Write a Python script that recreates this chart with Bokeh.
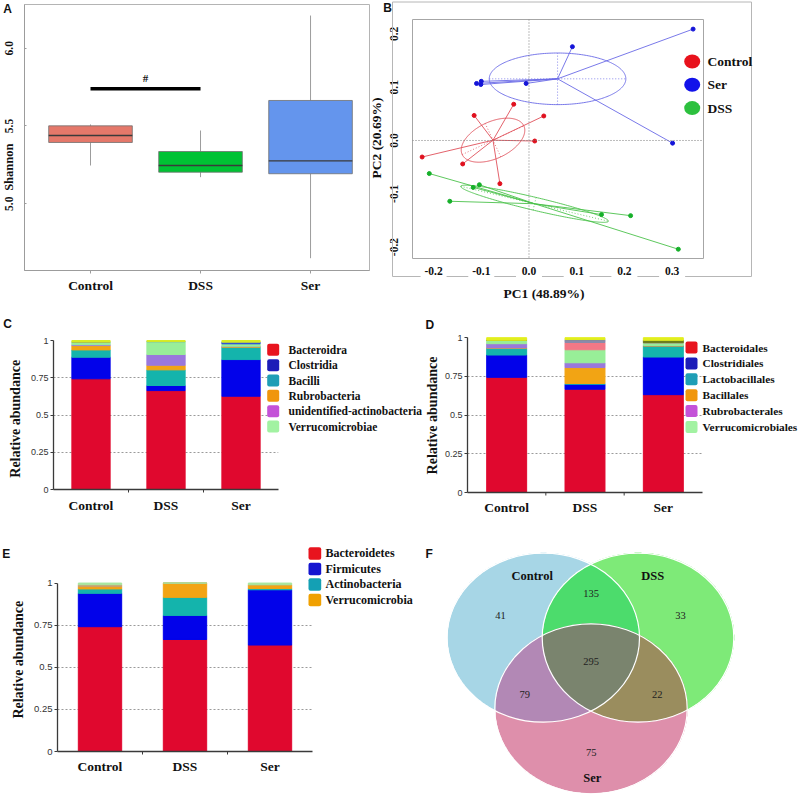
import numpy as np
from bokeh.plotting import figure
from bokeh.models import (Range1d, FactorRange, FixedTicker, Label, BoxAnnotation, Span,
                          NumeralTickFormatter, ColumnDataSource, GridBox)
from bokeh.embed import file_html
from bokeh.resources import INLINE
from bokeh.core.properties import value

SERIF = "Liberation Serif"
SANS = "Liberation Sans"
INK = "#111111"
W = H = 800

# ============================ data ============================
groups = ["Control", "DSS", "Ser"]

# (A) Shannon diversity: box-plot statistics per group
shannon_lo = [5.246, 5.171, 4.650]
shannon_q1 = [5.394, 5.203, 5.193]
shannon_median = [5.439, 5.246, 5.276]
shannon_q3 = [5.501, 5.336, 5.664]
shannon_hi = [5.510, 5.471, 6.210]
shannon_ticks = [5.0, 5.5, 6.0]
shannon_title = "Shannon"
sig_pair = ["Control", "DSS"]
sig_level = 5.739
sig_symbol = "#"

# (B) PCoA scores
pcoa_groups = ["Control", "Ser", "DSS"]
pc1_control = [-0.224, -0.139, -0.115, -0.032, 0.031, 0.012, -0.061]
pc2_control = [-0.031, -0.044, 0.047, 0.068, 0.046, -0.001, -0.081]
pc1_ser = [0.344, 0.091, -0.110, -0.100, -0.101, -0.006, 0.301]
pc2_ser = [0.209, 0.176, 0.107, 0.111, 0.105, 0.107, -0.005]
pc1_dss = [-0.209, -0.166, -0.117, -0.104, 0.152, 0.213, 0.313]
pc2_dss = [-0.062, -0.114, -0.088, -0.083, -0.139, -0.141, -0.204]
pc1_ticks = [-0.2, -0.1, 0.0, 0.1, 0.2, 0.3]
pc2_ticks = [-0.2, -0.1, 0.0, 0.1, 0.2]
pc1_title = "PC1 (48.89%)"
pc2_title = "PC2 (20.69%)"

# (C) class level relative abundance (stack order bottom -> top)
class_names = ["Bacteroidra", "Clostridia", "Bacilli", "Rubrobacteria",
               "unidentified-actinobacteria", "Verrucomicrobiae", "Other class", "Others"]
class_control = [0.743, 0.145, 0.049, 0.029, 0.006, 0.017, 0.000, 0.011]
class_dss = [0.664, 0.034, 0.105, 0.031, 0.072, 0.087, 0.000, 0.007]
class_ser = [0.626, 0.246, 0.083, 0.004, 0.003, 0.016, 0.011, 0.011]
class_legend_n = 6

# (D) order level
order_names = ["Bacteroidales", "Clostridiales", "Lactobacillales", "Bacillales",
               "Rubrobacterales", "Verrucomicrobiales", "Other order 1", "Other order 2",
               "Other order 3", "Others"]
order_control = [0.744, 0.144, 0.044, 0.002, 0.027, 0.022, 0.000, 0.000, 0.000, 0.017]
order_dss = [0.667, 0.032, 0.005, 0.103, 0.031, 0.084, 0.047, 0.019, 0.000, 0.012]
order_ser = [0.632, 0.243, 0.071, 0.002, 0.002, 0.018, 0.000, 0.000, 0.015, 0.017]
order_legend_n = 6

# (E) phylum level
phylum_names = ["Bacteroidetes", "Firmicutes", "Actinobacteria", "Verrucomicrobia",
                "Other phylum", "Others"]
phylum_control = [0.741, 0.198, 0.026, 0.014, 0.011, 0.010]
phylum_dss = [0.665, 0.143, 0.107, 0.085, 0.000, 0.000]
phylum_ser = [0.632, 0.328, 0.008, 0.022, 0.000, 0.010]
phylum_legend_n = 4

abundance_ticks = [0, 0.25, 0.5, 0.75, 1]
abundance_grid = [0.25, 0.5, 0.75]
abundance_title = "Relative abundance"

# (F) Venn diagram: OTU counts per region (bit 1 = Control, 2 = DSS, 4 = Ser)
venn_sets = ["Control", "DSS", "Ser"]
venn_regions = [1, 2, 4, 3, 5, 6, 7]
venn_counts = [41, 33, 75, 135, 79, 22, 295]

# ============================ styles ============================
BOX_COLORS = ["#e5786a", "#00c234", "#6495ed"]
PC_POINT = {"Control": "#e0101e", "Ser": "#1414d8", "DSS": "#16b02a"}
PC_LINE = {"Control": "#e0505a", "Ser": "#6a6ae6", "DSS": "#4cc24c"}
PC_LEG = {"Control": "#e8121c", "Ser": "#1212ea", "DSS": "#2cc03e"}
PC_ELL = {"Control": (34.0, 18.4, 25.0), "Ser": (68.3, 25.8, 0.0), "DSS": (75.9, 6.5, -13.3)}

CLASS_COLORS = ["#e0082e", "#0202ea", "#14b4ac", "#f2a414", "#9a78dc", "#98ee98", "#2848d8", "#d6ec24"]
CLASS_LEG_COLORS = ["#e8141e", "#1c1cb8", "#1e9eb6", "#f0960c", "#c452d8", "#a2f2a2"]
ORDER_COLORS = ["#e0082e", "#0202ea", "#14b4ac", "#f2a414", "#9a78dc", "#98ee98",
                "#f27886", "#8a8aaa", "#6b7d1e", "#e2ee1e"]
ORDER_LEG_COLORS = ["#e8141e", "#1c1cb8", "#1e9eb6", "#f0960c", "#c452d8", "#a2f2a2"]
PHYLUM_COLORS = ["#e0082e", "#0202ea", "#14b4ac", "#f2a414", "#c8a070", "#a8e6a0"]
PHYLUM_LEG_COLORS = ["#e8141e", "#1414d0", "#14a0b4", "#f0a000"]
VENN_FILL = {1: "#a7d6e6", 2: "#7eea78", 4: "#de8fab", 3: "#4cdc6c",
             5: "#b288b5", 6: "#9a8d5e", 7: "#7a846e"}


# ============================ helpers ============================
def panel_fig(left, right, top, bottom, xr, yr, axes=True):
    """Full-page (800x800) transparent figure whose frame sits at the given page box."""
    kw = {} if axes else dict(x_axis_type=None, y_axis_type=None)
    p = figure(width=W, height=H, x_range=xr, y_range=yr, output_backend="svg",
               toolbar_location=None, title=None,
               min_border_left=left, min_border_right=W - right,
               min_border_top=top, min_border_bottom=H - bottom, **kw)
    p.frame_align = False
    p.outline_line_color = None
    p.grid.visible = False
    p.background_fill_alpha = 0
    p.border_fill_alpha = 0
    return p


def style_axis(ax, size, font=SERIF, bold=True, color=INK):
    ax.major_label_text_font = font
    ax.major_label_text_font_size = f"{size}px"
    ax.major_label_text_font_style = "bold" if bold else "normal"
    ax.major_label_text_color = color
    ax.minor_tick_line_color = None


# overlay figure for free texts / legends (frame = whole page, 1 unit = 1 px)
ov = figure(width=W, height=H, x_range=Range1d(0, W), y_range=Range1d(0, H),
            x_axis_type=None, y_axis_type=None, output_backend="svg",
            toolbar_location=None, title=None, min_border=0)
ov.frame_align = False
ov.outline_line_color = None
ov.grid.visible = False
ov.background_fill_alpha = 0
ov.border_fill_alpha = 0


def txt(px, py, text, size, font=SERIF, bold=True, align="center", baseline="middle",
        angle=0.0, color=INK):
    ov.add_layout(Label(x=px, y=H - py, text=text, text_font=font,
                        text_font_size=f"{size}px",
                        text_font_style="bold" if bold else "normal", text_color=color,
                        text_align=align, text_baseline=baseline, angle=angle))


def legend_block(names, colors, left, top, pitch, sq_w, sq_h, text_x, size):
    for i, (nm, col) in enumerate(zip(names, colors)):
        t = top + i * pitch
        ov.add_layout(BoxAnnotation(left=left, right=left + sq_w, top=H - t, bottom=H - t - sq_h,
                                    fill_color=col, fill_alpha=1.0, line_color=None,
                                    border_radius=2))
        txt(text_x, t + sq_h / 2, nm, size, align="left")


# ============================ (A) ============================
x_pos = list(range(len(groups)))
pA = panel_fig(24, 369, 4, 270, Range1d(-0.6, 2.536), Range1d(4.571, 6.281))
pA.outline_line_color = "#b4b4b4"
BOX_W = 0.76
srcA = ColumnDataSource(dict(x=x_pos, lo=shannon_lo, q1=shannon_q1, med=shannon_median,
                             q3=shannon_q3, hi=shannon_hi,
                             x0=[x - BOX_W / 2 for x in x_pos], x1=[x + BOX_W / 2 for x in x_pos],
                             color=BOX_COLORS))
pA.segment(x0="x", y0="q3", x1="x", y1="hi", source=srcA, line_color="#9c9c9c", line_width=1)
pA.segment(x0="x", y0="q1", x1="x", y1="lo", source=srcA, line_color="#9c9c9c", line_width=1)
pA.vbar(x="x", width=BOX_W, bottom="q1", top="q3", source=srcA, fill_color="color",
        line_color="#707070", line_width=0.8)
pA.segment(x0="x0", y0="med", x1="x1", y1="med", source=srcA, line_color="#3a3a3a", line_width=1.3)
i0, i1 = groups.index(sig_pair[0]), groups.index(sig_pair[1])
pA.segment(x0=[i0], y0=[sig_level], x1=[i1], y1=[sig_level], line_color="black", line_width=3.5)
pA.text(x=[(i0 + i1) / 2], y=[sig_level], text=[sig_symbol], text_font=value(SERIF),
        text_font_style="bold", text_font_size="11px", text_align="center",
        text_baseline="middle", y_offset=-11, text_color=INK)

xa = pA.xaxis[0]
xa.ticker = FixedTicker(ticks=x_pos)
xa.major_label_overrides = {i: g for i, g in enumerate(groups)}
xa.axis_line_color = "#9c9c9c"
xa.major_tick_line_color = "#9c9c9c"
xa.major_tick_out = 3
xa.major_tick_in = 0
xa.major_label_standoff = 4
style_axis(xa, 13.5)
ya = pA.yaxis[0]
ya.ticker = FixedTicker(ticks=shannon_ticks)
ya.formatter = NumeralTickFormatter(format="0.0")
ya.major_label_orientation = "vertical"
ya.axis_line_color = "#9c9c9c"
ya.major_tick_line_color = "#9c9c9c"
ya.major_tick_out = 0
ya.major_tick_in = 2
ya.major_label_standoff = 11
style_axis(ya, 11.5)
txt(8.3, 166.7, shannon_title, 12.5, angle=np.pi / 2)
txt(2.7, 8.0, "A", 12, font=SANS, align="left")

# ============================ (B) ============================
BL, BR, BT, BB = 412, 703, 19, 258
bx0, bx1, by0, by1 = -0.2442, 0.3658, -0.2214, 0.2270
pB = panel_fig(BL, BR, BT, BB, Range1d(bx0, bx1), Range1d(by0, by1))
pB.outline_line_color = "#a6a6a6"
SX = (BR - BL) / (bx1 - bx0)
SY = (BB - BT) / (by1 - by0)

pB.add_layout(Span(location=0, dimension="height", line_color="#7a7a7a", line_dash="1 2", line_width=1))
pB.add_layout(Span(location=0, dimension="width", line_color="#7a7a7a", line_dash="1 2", line_width=1))

pcs = {"Control": (pc1_control, pc2_control), "Ser": (pc1_ser, pc2_ser), "DSS": (pc1_dss, pc2_dss)}
t = np.linspace(0, 2 * np.pi, 240)
for g in pcoa_groups:
    xs, ys = pcs[g]
    n = len(xs)
    cx, cy = float(np.mean(xs)), float(np.mean(ys))
    a, b, ang = PC_ELL[g]
    th = np.radians(ang)
    ex = a * np.cos(t)
    ey = b * np.sin(t)
    pB.line(cx + (ex * np.cos(th) - ey * np.sin(th)) / SX,
            cy + (ex * np.sin(th) + ey * np.cos(th)) / SY,
            line_color=PC_LINE[g], line_width=0.9)
    pB.line([cx - a * np.cos(th) / SX, cx + a * np.cos(th) / SX],
            [cy - a * np.sin(th) / SY, cy + a * np.sin(th) / SY],
            line_color=PC_LINE[g], line_width=0.8, line_dash="1 2")
    pB.line([cx + b * np.sin(th) / SX, cx - b * np.sin(th) / SX],
            [cy - b * np.cos(th) / SY, cy + b * np.cos(th) / SY],
            line_color=PC_LINE[g], line_width=0.8, line_dash="1 2")
    pB.segment(x0=[cx] * n, y0=[cy] * n, x1=xs, y1=ys, line_color=PC_LINE[g], line_width=0.9)
    pB.scatter(xs, ys, size=4, color=PC_POINT[g])

xb = pB.xaxis[0]
xb.ticker = FixedTicker(ticks=pc1_ticks)
xb.formatter = NumeralTickFormatter(format="0.0")
xb.axis_line_color = None
xb.major_tick_line_color = None
xb.major_label_standoff = 2
style_axis(xb, 11.5)
yb = pB.yaxis[0]
yb.ticker = FixedTicker(ticks=pc2_ticks)
yb.formatter = NumeralTickFormatter(format="0.0")
yb.axis_line_color = None
yb.major_tick_line_color = None
yb.major_label_orientation = "vertical"
yb.major_label_standoff = 8
style_axis(yb, 11.5)

# outer frame of panel B (bottom edge interrupted by the tick labels)
OUT_L, OUT_R, OUT_T, OUT_B = 392, 751, 1.5, 276
FRAME_COL = "#b6b6b6"
ov.segment(x0=[OUT_L, OUT_L, OUT_R], y0=[H - OUT_T, H - OUT_T, H - OUT_T],
           x1=[OUT_R, OUT_L, OUT_R], y1=[H - OUT_T, H - OUT_B, H - OUT_B],
           line_color=FRAME_COL, line_width=1)
tick_px = [BL + (tv - bx0) * SX for tv in pc1_ticks]
GAP = 13
seg_x0 = [OUT_L] + [tp + GAP for tp in tick_px]
seg_x1 = [tp - GAP for tp in tick_px] + [OUT_R]
ov.segment(x0=seg_x0, y0=[H - OUT_B] * len(seg_x0), x1=seg_x1, y1=[H - OUT_B] * len(seg_x1),
           line_color=FRAME_COL, line_width=1)

for i, g in enumerate(pcoa_groups):
    py = 61.0 + 23.3 * i
    ov.ellipse(x=[691.7], y=[H - py], width=16, height=14, fill_color=PC_LEG[g], line_color=None)
    txt(707, py, g, 13.5, align="left")
txt(376, 137.5, pc2_title, 13.5, angle=np.pi / 2)
txt(543.5, 293, pc1_title, 13.5)
txt(382.7, 7.5, "B", 12, font=SANS, align="left")


# ============================ (C, D, E) ============================
def bar_panel(left, right, top, bottom, names, ctrl, dss, ser, colors, tick_size, xl_standoff):
    p = panel_fig(left, right, top, bottom, FactorRange(*groups, range_padding=0),
                  Range1d(0, 1.027))
    data = {"group": groups}
    for i, nm in enumerate(names):
        data[nm] = [ctrl[i], dss[i], ser[i]]
    p.vbar_stack(names, x="group", width=0.51, color=colors, source=ColumnDataSource(data))
    p.ygrid.visible = True
    p.ygrid.ticker = FixedTicker(ticks=abundance_grid)
    p.ygrid.grid_line_color = "#9a9a9a"
    p.ygrid.grid_line_dash = "2 2"
    p.ygrid.grid_line_width = 1
    ax = p.xaxis[0]
    ax.axis_line_color = "#3a3a3a"
    ax.axis_line_width = 1.3
    ax.major_tick_out = 0
    ax.major_tick_in = 0
    ax.major_label_standoff = xl_standoff
    style_axis(ax, 13.5)
    ay = p.yaxis[0]
    ay.ticker = FixedTicker(ticks=abundance_ticks)
    ay.formatter = NumeralTickFormatter(format="0.[00]")
    ay.bounds = (0, 1)
    ay.axis_line_color = "#3a3a3a"
    ay.axis_line_width = 1.3
    ay.major_tick_line_color = "#3a3a3a"
    ay.major_tick_out = 3
    ay.major_tick_in = 0
    ay.major_label_standoff = 2
    style_axis(ay, tick_size, font=SANS, bold=False, color="#333333")
    # small separator ticks between the categories, below the x axis
    step = (right - left) / len(groups)
    bx = [left + k * step for k in range(1, len(groups))]
    ov.segment(x0=bx, y0=[H - bottom] * len(bx), x1=bx, y1=[H - bottom - 3] * len(bx),
               line_color="#3a3a3a", line_width=1)
    return p


pC = bar_panel(53, 278, 336, 489, class_names, class_control, class_dss, class_ser,
               CLASS_COLORS, 9, 8)
legend_block(class_names[:class_legend_n], CLASS_LEG_COLORS, 266.7, 343.3, 15.35, 12, 12, 288, 11.5)
txt(15, 418.3, abundance_title, 14, angle=np.pi / 2)
txt(2.7, 323.5, "C", 12, font=SANS, align="left")

pD = bar_panel(467, 702, 333, 492, order_names, order_control, order_dss, order_ser,
               ORDER_COLORS, 9, 7)
legend_block(order_names[:order_legend_n], ORDER_LEG_COLORS, 685, 341, 15.9, 12, 12, 702, 11.3)
txt(432, 415, abundance_title, 14, angle=np.pi / 2)
txt(425, 324, "D", 12, font=SANS, align="left")

pE = bar_panel(57, 312, 578, 751, phylum_names, phylum_control, phylum_dss, phylum_ser,
               PHYLUM_COLORS, 9.5, 7)
legend_block(phylum_names[:phylum_legend_n], PHYLUM_LEG_COLORS, 308, 546.7, 15.5, 12.7, 12.5, 325, 12)
txt(18.3, 659.2, abundance_title, 14, angle=np.pi / 2)
txt(1.7, 553, "E", 12, font=SANS, align="left")

# ============================ (F) Venn ============================
pF = panel_fig(420, 800, 540, 800, Range1d(0, 380), Range1d(0, 260), axes=False)
VENN_GEOM = [(122.8, 162.8, 96.2, 84.5), (217.5, 162.8, 95.8, 84.5), (170.5, 91.7, 96.2, 85.0)]
VENN_COUNT_POS = {1: (80, 185), 2: (260, 185), 4: (170.7, 48.3), 3: (170.7, 206.7),
                  5: (104.3, 105.7), 6: (236.7, 105.7), 7: (170.7, 139.3)}
VENN_SET_POS = [(111.7, 224.3), (232.3, 224.3), (171.7, 22.3)]

RES = 2
NX, NY = 380 * RES, 260 * RES
gx = (np.arange(NX) + 0.5) / RES
gy = (np.arange(NY) + 0.5) / RES
GX, GY = np.meshgrid(gx, gy)
code = np.zeros(GX.shape, dtype=np.int32)
for k, (cx, cy, a, b) in enumerate(VENN_GEOM):
    inside = ((GX - cx) / a) ** 2 + ((GY - cy) / b) ** 2 <= 1.0
    code |= (inside.astype(np.int32) << k)
img = np.zeros((NY, NX), dtype=np.uint32)
view = img.view(dtype=np.uint8).reshape((NY, NX, 4))
for reg, hexcol in VENN_FILL.items():
    m = code == reg
    view[m, 0] = int(hexcol[1:3], 16)
    view[m, 1] = int(hexcol[3:5], 16)
    view[m, 2] = int(hexcol[5:7], 16)
    view[m, 3] = 255
pF.image_rgba(image=[img], x=0, y=0, dw=380, dh=260)
pF.ellipse(x=[g[0] for g in VENN_GEOM], y=[g[1] for g in VENN_GEOM],
           width=[2 * g[2] for g in VENN_GEOM], height=[2 * g[3] for g in VENN_GEOM],
           fill_color=None, line_color="white", line_width=1.2)
pF.text(x=[VENN_COUNT_POS[r][0] for r in venn_regions],
        y=[VENN_COUNT_POS[r][1] for r in venn_regions],
        text=[str(c) for c in venn_counts], text_font=value(SERIF), text_font_size="10.5px",
        text_align="center", text_baseline="middle", text_color="#222222")
pF.text(x=[p_[0] for p_ in VENN_SET_POS], y=[p_[1] for p_ in VENN_SET_POS], text=venn_sets,
        text_font=value(SERIF), text_font_style="bold", text_font_size="12.5px",
        text_align="center", text_baseline="middle", text_color=INK)
txt(425, 553, "F", 12, font=SANS, align="left")

root = GridBox(children=[(pA, 0, 0), (pB, 0, 0), (pC, 0, 0), (pD, 0, 0), (pE, 0, 0),
                         (pF, 0, 0), (ov, 0, 0)])
open("out.html", "w").write(file_html(root, INLINE))
